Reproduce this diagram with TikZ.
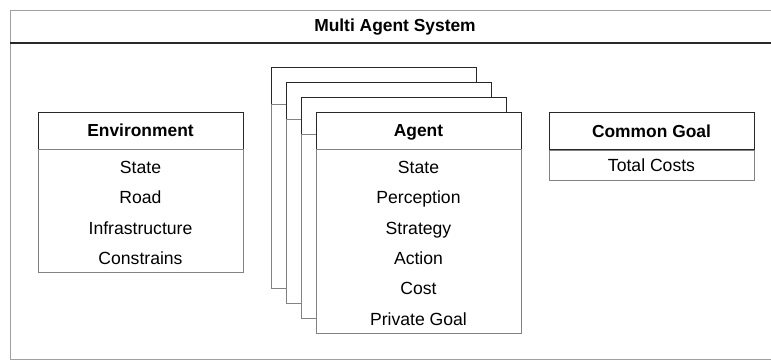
\documentclass[tikz,border=0pt]{standalone}
\usepackage{fontspec}
\setmainfont{Liberation Sans}
\usepackage{xcolor}
\usepackage{tikz}
\usetikzlibrary{positioning}
\definecolor{framegray}{RGB}{160, 160, 160}
\definecolor{bodygray}{RGB}{130, 130, 130}
\definecolor{headdark}{RGB}{40, 40, 40}

\begin{document}
\begin{tikzpicture}[x=1pt, y=-1pt,
    header/.style={draw=headdark, fill=white, minimum width=205pt, minimum height=37pt,
                   inner sep=0pt, text height=12.6pt, text depth=0pt,
                   font=\bfseries\fontsize{17.4}{20}\selectfont},
    body/.style={draw=bodygray, fill=white, minimum width=205pt, anchor=north, inner sep=0pt},
    item/.style={font=\fontsize{17.6}{20}\selectfont, inner sep=0pt,
                 text height=12.6pt, text depth=0pt}]
    \useasboundingbox (0,0) rectangle (771,360);

    % Frame
    \draw[framegray, line width=0.9pt] (782,10) -- (10,10) -- (10,359) -- (782,359);
    \draw[headdark, line width=1.8pt] (10,43) -- (782,43);
    \node[font=\bfseries\fontsize{17.4}{20}\selectfont] (title) at (395,27) {Multi Agent System};

    % Environment
    \node[header] (env) at (140.5,130.5) {Environment};
    \node[body, minimum height=123pt] (envbody) at (env.south) {};
    \foreach \i/\txt in {0/State, 1/Road, 2/Infrastructure, 3/Constrains}
      \node[item] (env\i) at (140.5,167+30.4*\i) {\txt};

    % Agent cards behind
    \foreach \i in {3,2,1} {
      \node[header] (card\i) at (418.5-15*\i,130.5-15*\i) {};
      \node[body, minimum height=184pt] (card\i body) at (card\i.south) {};
    }

    % Agent
    \node[header] (agent) at (418.5,130.5) {Agent};
    \node[body, minimum height=184pt] (agentbody) at (agent.south) {};
    \foreach \i/\txt in {0/State, 1/Perception, 2/Strategy, 3/Action, 4/Cost, 5/Private Goal}
      \node[item] (agent\i) at (418.5,167+30.4*\i) {\txt};

    % Common goal
    \node[header] (goal) at (651.5,131) {Common Goal};
    \node[body, minimum height=30pt] (goalbody) at (goal.south) {};
    \node[item] (goal0) at (goalbody.center) {Total Costs};
\end{tikzpicture}
\end{document}
